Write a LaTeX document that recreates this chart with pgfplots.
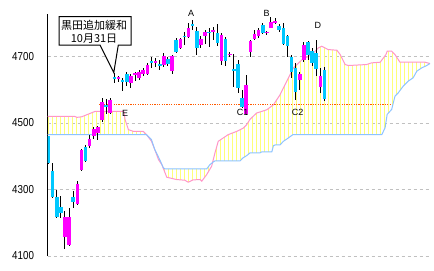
\documentclass[border=0pt]{standalone}
\usepackage{pgfplots}
\pgfplotsset{compat=1.18}
\usepackage{pgfplotstable}
\usepgfplotslibrary{fillbetween}
\usetikzlibrary{patterns.meta}
\usepackage{fontspec}
\setmainfont{Liberation Sans}
\newfontfamily\tickfont[FakeStretch=0.85]{Liberation Sans}
\newfontfamily\jpfont{Noto Sans CJK JP}
\definecolor{upc}{RGB}{255,0,255}
\definecolor{dnc}{RGB}{0,200,255}
\definecolor{spa}{RGB}{255,150,200}
\definecolor{spb}{RGB}{140,195,255}
\definecolor{kumo}{RGB}{255,255,120}
\definecolor{gridc}{RGB}{192,192,192}
\definecolor{lvl}{RGB}{255,90,0}
\pgfplotstableread{
i O H L C
4 4156 4235 4122 4217
5 4134 4245 4131 4218
7 4256 4327 4252 4318
8 4360 4422 4356 4420
10 4430 4463 4424 4452
11 4460 4489 4452 4483
12 4470 4490 4450 4487
13 4508 4574 4504 4564
15 4531 4576 4526 4568
17 4632 4643 4622 4639
20 4621 4649 4605 4643
21 4643 4655 4625 4650
22 4636 4660 4630 4653
23 4649 4665 4640 4661
24 4649 4680 4645 4676
26 4681 4695 4670 4686
28 4676 4711 4670 4703
30 4656 4705 4648 4703
32 4726 4757 4722 4753
34 4759 4800 4755 4787
37 4734 4763 4725 4754
38 4761 4781 4737 4775
40 4775 4790 4750 4781
42 4686 4771 4676 4766
44 4704 4715 4700 4709
48 4527 4643 4525 4615
49 4713 4750 4700 4748
50 4753 4780 4750 4768
51 4761 4785 4755 4781
53 4770 4778 4766 4775
54 4787 4820 4785 4805
55 4801 4815 4798 4806
61 4628 4655 4600 4649
62 4691 4745 4685 4736
66 4609 4665 4590 4641
}\up
\pgfplotstableread{
i O H L C
0 4460 4462 4378 4380
1 4355 4380 4276 4278
2 4277 4300 4214 4217
3 4247 4280 4215 4230
6 4277 4295 4244 4262
9 4429 4435 4383 4385
14 4555 4571 4526 4550
16 4639 4651 4621 4631
18 4629 4636 4596 4623
19 4649 4655 4610 4623
25 4686 4700 4666 4681
27 4679 4689 4660 4671
29 4693 4700 4672 4678
31 4751 4757 4710 4713
33 4763 4775 4735 4758
35 4797 4811 4780 4792
36 4778 4790 4706 4727
39 4775 4787 4730 4770
41 4770 4797 4733 4741
43 4754 4759 4671 4686
45 4664 4709 4607 4656
46 4679 4690 4591 4604
47 4574 4600 4545 4549
52 4796 4800 4768 4771
56 4793 4797 4775 4779
57 4786 4800 4735 4738
58 4761 4765 4700 4731
59 4699 4705 4635 4653
60 4666 4680 4570 4593
63 4743 4748 4690 4706
64 4716 4725 4672 4681
65 4711 4751 4640 4664
67 4661 4668 4565 4571
}\dn
\begin{document}
\begin{tikzpicture}
\begin{axis}[
  scale only axis, width=382.5bp, height=242bp,
  xmin=-0.24, xmax=92.6, ymin=4100, ymax=4828,
  axis x line=none, axis y line*=left,
  y axis line style={black, line width=1bp},
  ytick={4100,4300,4500,4700}, yticklabels={4100,4300,4500,4700},
  major tick length=0pt,
  yticklabel style={font=\tickfont\fontsize{11.5bp}{12bp}\selectfont, xshift=-10bp},
  ymajorgrids, grid style={gridc, dash pattern=on 3bp off 3bp, line width=1bp},
  candle/.style={draw=none, mark=none, error bars/.cd, y dir=both, y explicit, error mark=none},
]
\addplot[name path=A, spa, line width=1bp, mark=none] coordinates {
(-0.3,4520) (6.4,4520) (6.9,4517) (8.1,4519) (10.1,4529) (11.3,4535) (18.3,4535)
(18.6,4510) (19.4,4480) (20.6,4475) (23.0,4475) (23.8,4465) (25.0,4445) (25.8,4420)
(26.7,4390) (27.5,4375) (28.3,4350) (28.7,4337) (31.1,4330) (33.1,4328) (33.9,4322)
(35.1,4329) (36.8,4330) (37.2,4325) (38.4,4345) (39.6,4370) (40.4,4410) (41.2,4445)
(42.4,4455) (43.6,4465) (45.7,4475) (47.3,4485) (48.1,4495) (48.9,4511) (50.5,4530)
(53.0,4540) (54.6,4555) (56.2,4585) (57.8,4625) (59.4,4665) (61.5,4690) (63.9,4706)
(65.5,4726) (66.3,4731) (67.9,4721) (70.0,4719) (70.8,4706) (72.0,4676) (72.8,4673)
(77.2,4676) (78.4,4681) (80.5,4683) (81.9,4706) (82.2,4716) (83.3,4716) (84.1,4706)
(85.3,4683) (91.4,4683) (92.6,4679)};
\addplot[name path=B, spb, line width=1bp, mark=none] coordinates {
(-0.3,4465) (23.8,4465) (25.0,4450) (25.8,4420) (27.0,4390) (27.9,4365) (28.3,4362)
(38.4,4362) (39.2,4375) (40.0,4383) (40.4,4386) (46.5,4386) (47.2,4395) (48.1,4402)
(48.9,4410) (51.3,4410) (51.7,4413) (54.2,4413) (54.6,4432) (55.0,4434) (56.2,4434)
(57.0,4445) (58.2,4455) (59.3,4465) (80.9,4465) (81.7,4486) (82.2,4526) (83.3,4541)
(84.1,4581) (84.9,4591) (86.1,4611) (87.3,4626) (88.5,4636) (89.4,4656) (90.6,4666)
(91.8,4673) (92.6,4679)};
\addplot[pattern={Lines[angle=90,distance=4bp,line width=1bp,xshift=0.5bp]}, pattern color=kumo, draw=none] fill between[of=A and B];
\addplot[lvl, line width=1.2bp, dash pattern=on 1.2bp off 1.2bp, mark=none] coordinates {(12.3,4555) (83.1,4555)};
% wicks
\addplot[candle, error bar style={draw=black, solid, line width=1bp}]
  table[x=i, y expr=(\thisrow{H}+\thisrow{L})/2, y error expr=(\thisrow{H}-\thisrow{L})/2]{\up};
\addplot[candle, error bar style={draw=black, solid, line width=1bp}]
  table[x=i, y expr=(\thisrow{H}+\thisrow{L})/2, y error expr=(\thisrow{H}-\thisrow{L})/2]{\dn};
% bodies
\addplot[candle, error bar style={draw=upc, solid, line width=3.6bp}]
  table[x=i, y expr=(\thisrow{O}+\thisrow{C})/2, y error expr=(\thisrow{C}-\thisrow{O})/2]{\up};
\addplot[candle, error bar style={draw=dnc, solid, line width=3.6bp}]
  table[x=i, y expr=(\thisrow{O}+\thisrow{C})/2, y error expr=(\thisrow{O}-\thisrow{C})/2]{\dn};
\end{axis}
\begin{scope}[shift={(-47.5bp,256bp)}, x=1bp, y=-1bp]
\path (0,0) rectangle (434,270);
\draw[line width=1bp, fill=white] (59,16.7) -- (131,16.7) -- (131,45) -- (118.3,45) -- (113.8,72.5) -- (100,45) -- (59,45) -- cycle;
\node[font=\jpfont\fontsize{11bp}{11bp}\selectfont, inner sep=0pt] at (94.2,25.7) {黒田追加緩和};
\node[font=\jpfont\fontsize{11bp}{11bp}\selectfont, inner sep=0pt] at (94,38.3) {10月31日};
\begin{scope}[every node/.style={font=\fontsize{9bp}{9bp}\selectfont, inner sep=0pt}]
\node at (191.2,13.7) {A};
\node at (266.7,13.7) {B};
\node at (317.8,25.7) {D};
\node at (125,113) {E};
\node at (242.5,112.7) {C1};
\node at (297.5,112.7) {C2};
\end{scope}
\end{scope}
\end{tikzpicture}
\end{document}
